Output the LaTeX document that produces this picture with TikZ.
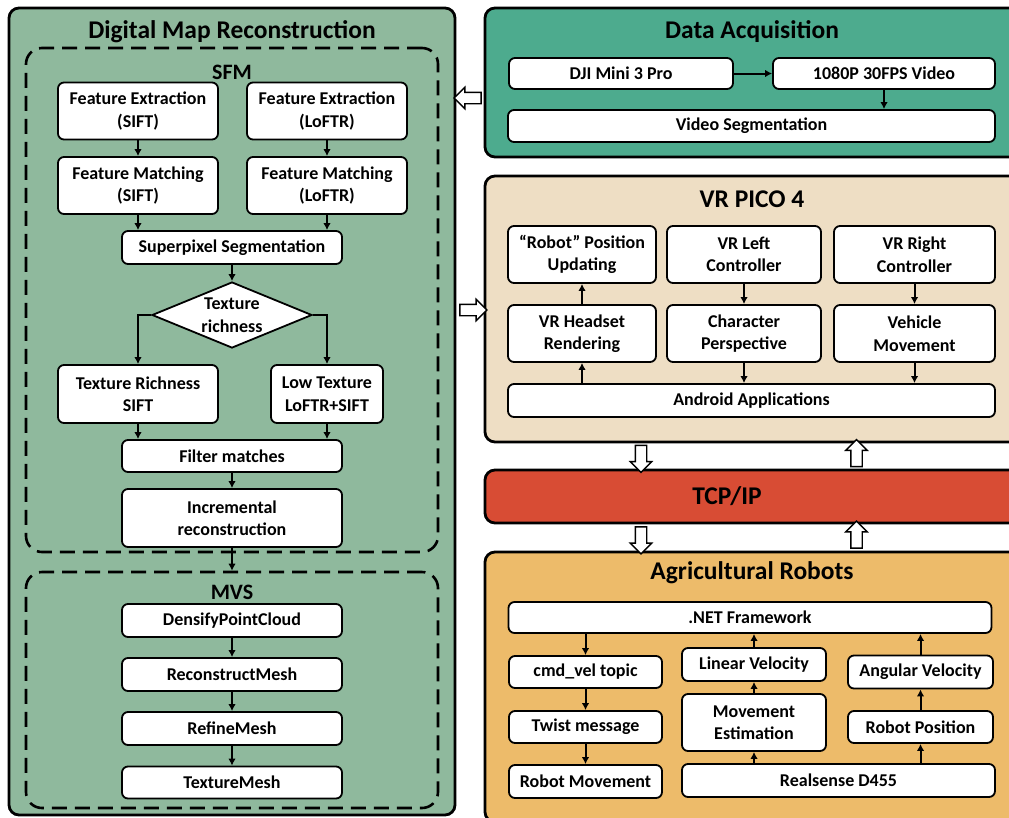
\documentclass[tikz,border=0pt]{standalone}
\usepackage{fontspec}
\setmainfont{Carlito}
\usetikzlibrary{shapes.geometric,shapes.arrows,arrows.meta}
\definecolor{mapgreen}{HTML}{8FB99D}
\definecolor{acqgreen}{HTML}{4DAB8E}
\definecolor{vrbeige}{HTML}{EEDEC4}
\definecolor{tcpred}{HTML}{D84C34}
\definecolor{agriorange}{HTML}{EDBB6A}
\begin{document}
\begin{tikzpicture}[x=1pt,y=-1pt,
  panel/.style={draw=black,line width=2.8pt,rounded corners=10pt,inner sep=0pt},
  dashbox/.style={draw=black,line width=2.6pt,rounded corners=16pt,dash pattern=on 15pt off 8pt,inner sep=0pt},
  box/.style={draw=black,fill=white,line width=1.8pt,rounded corners=6pt,inner sep=0pt,align=center,
    font=\bfseries\fontsize{18}{22.5}\selectfont},
  ptitle/.style={font=\bfseries\fontsize{25.5}{30}\selectfont,inner sep=0pt},
  stitle/.style={font=\bfseries\fontsize{22}{26}\selectfont,inner sep=0pt},
  arr/.style={line width=2pt,-{Latex[length=7pt,width=7.5pt]}},
  hollow/.style={single arrow,draw=black,fill=white,line width=1.4pt,inner sep=5pt,
    single arrow head extend=5pt,minimum height=27pt}
]
\clip (0,0) rectangle (1009,817);
% ---------------- left panel ----------------
\node[panel,fill=mapgreen,minimum width=446pt,minimum height=807pt] (map) at (232,411.5) {};
\node[ptitle] (maptitle) at (232,32) {Digital Map Reconstruction};
\node[dashbox,minimum width=412pt,minimum height=504pt] (sfm) at (232,300) {};
\node[stitle] (sfmtitle) at (232,72) {SFM};
\node[box,minimum width=160pt,minimum height=57pt] (fe1) at (138,111) {Feature Extraction\\(SIFT)};
\node[box,minimum width=160pt,minimum height=57pt] (fe2) at (327,111) {Feature Extraction\\(LoFTR)};
\node[box,minimum width=160pt,minimum height=57pt] (fm1) at (138,185.5) {Feature Matching\\(SIFT)};
\node[box,minimum width=160pt,minimum height=57pt] (fm2) at (327,185.5) {Feature Matching\\(LoFTR)};
\node[box,minimum width=220pt,minimum height=33pt] (sp) at (232,247.5) {Superpixel Segmentation};
\node[diamond,aspect=2.42,draw=black,fill=white,line width=1.8pt,inner sep=0pt,minimum width=160pt,minimum height=66pt] (tr) at (232,315) {};
\node[align=center,inner sep=0pt,font=\bfseries\fontsize{18}{22.5}\selectfont] (trt) at (232,315) {Texture\\richness};
\node[box,minimum width=160pt,minimum height=58pt] (trs) at (138,394) {Texture Richness\\SIFT};
\node[box,minimum width=112pt,minimum height=58pt] (lt) at (327,394) {Low Texture\\LoFTR+SIFT};
\node[box,minimum width=220pt,minimum height=32pt] (fmatch) at (232,456) {Filter matches};
\node[box,minimum width=220pt,minimum height=58pt] (inc) at (232,518) {Incremental\\reconstruction};
\node[dashbox,minimum width=412pt,minimum height=236pt] (mvs) at (232,690) {};
\node[stitle] (mvstitle) at (232,592) {MVS};
\node[box,minimum width=220pt,minimum height=33pt] (dpc) at (232,620.5) {DensifyPointCloud};
\node[box,minimum width=220pt,minimum height=33pt] (rcm) at (232,674.5) {ReconstructMesh};
\node[box,minimum width=220pt,minimum height=33pt] (rfm) at (232,728.5) {RefineMesh};
\node[box,minimum width=220pt,minimum height=32pt] (txm) at (232,782.5) {TextureMesh};
\draw[arr] (fe1) -- (fm1);
\draw[arr] (fe2) -- (fm2);
\draw[arr] (fm1.south) -- (fm1.south |- sp.north);
\draw[arr] (fm2.south) -- (fm2.south |- sp.north);
\draw[arr] (sp) -- (tr);
\draw[arr] (tr.west) -| (trs.north);
\draw[arr] (tr.east) -| (lt.north);
\draw[arr] (trs.south) -- (trs.south |- fmatch.north);
\draw[arr] (lt.south) -- (lt.south |- fmatch.north);
\draw[arr] (fmatch) -- (inc);
\draw[arr] (inc.south) -- (mvs.north);
\draw[arr] (dpc) -- (rcm);
\draw[arr] (rcm) -- (rfm);
\draw[arr] (rfm) -- (txm);
% ---------------- data acquisition ----------------
\node[panel,fill=acqgreen,minimum width=540pt,minimum height=149pt] (da) at (755,82.5) {};
\node[ptitle] (datitle) at (752,32) {Data Acquisition};
\node[box,minimum width=224pt,minimum height=31pt] (dji) at (621,73.5) {DJI Mini 3 Pro};
\node[box,minimum width=222pt,minimum height=31pt] (vid) at (884,73.5) {1080P 30FPS Video};
\node[box,minimum width=487pt,minimum height=32pt] (vseg) at (751.5,126) {Video Segmentation};
\draw[arr] (dji) -- (vid);
\draw[arr] (vid) -- (vseg.north -| vid.south);
% ---------------- VR PICO 4 ----------------
\node[panel,fill=vrbeige,minimum width=540pt,minimum height=266pt] (vr) at (755,309) {};
\node[ptitle] (vrtitle) at (752,199) {VR PICO 4};
\node[box,minimum width=148pt,minimum height=57pt] (rpu) at (582,254.5) {``Robot'' Position\\Updating};
\node[box,minimum width=154pt,minimum height=57pt] (vrl) at (744,254.5) {VR Left\\Controller};
\node[box,minimum width=161pt,minimum height=57pt] (vrr) at (914.5,254.5) {VR Right\\Controller};
\node[box,minimum width=148pt,minimum height=57pt] (vhr) at (582,333.5) {VR Headset\\Rendering};
\node[box,minimum width=154pt,minimum height=57pt] (cp) at (744,333.5) {Character\\Perspective};
\node[box,minimum width=161pt,minimum height=57pt] (vm) at (914.5,333.5) {Vehicle\\Movement};
\node[box,minimum width=487pt,minimum height=33pt] (aa) at (751.5,400.5) {Android Applications};
\draw[arr] (aa.north -| vhr.south) -- (vhr.south);
\draw[arr] (vhr) -- (rpu);
\draw[arr] (vrl) -- (cp);
\draw[arr] (cp.south) -- (cp.south |- aa.north);
\draw[arr] (vrr) -- (vm);
\draw[arr] (vm.south) -- (vm.south |- aa.north);
% ---------------- TCP/IP ----------------
\node[panel,fill=tcpred,minimum width=540pt,minimum height=53pt] (tcp) at (755,496.5) {};
\node[ptitle] (tcptitle) at (727,496.5) {TCP/IP};
% ---------------- agricultural robots ----------------
\node[panel,fill=agriorange,minimum width=540pt,minimum height=270pt] (agri) at (755,687) {};
\node[ptitle] (agrititle) at (752,573) {Agricultural Robots};
\node[box,minimum width=483pt,minimum height=31pt] (net) at (750,617.5) {.NET Framework};
\node[box,minimum width=153pt,minimum height=32pt] (cmd) at (585.5,672) {cmd\_vel topic};
\node[box,minimum width=153pt,minimum height=32pt] (twist) at (585.5,727) {Twist message};
\node[box,minimum width=153pt,minimum height=33pt] (rmov) at (585.5,781.5) {Robot Movement};
\node[box,minimum width=144pt,minimum height=33pt] (lv) at (754,664.5) {Linear Velocity};
\node[box,minimum width=144pt,minimum height=57pt] (me) at (754,722.5) {Movement\\Estimation};
\node[box,minimum width=313pt,minimum height=33pt] (rs) at (838.5,780.5) {Realsense D455};
\node[box,minimum width=145pt,minimum height=33pt] (av) at (920.5,672) {Angular Velocity};
\node[box,minimum width=145pt,minimum height=32pt] (rp) at (920.5,727) {Robot Position};
\draw[arr] (net.south -| cmd.north) -- (cmd.north);
\draw[arr] (cmd) -- (twist);
\draw[arr] (twist) -- (rmov);
\draw[arr] (rs.north -| me.south) -- (me.south);
\draw[arr] (me) -- (lv);
\draw[arr] (lv.north) -- (lv.north |- net.south);
\draw[arr] (rs.north -| rp.south) -- (rp.south);
\draw[arr] (rp) -- (av);
\draw[arr] (av.north) -- (av.north |- net.south);
% ---------------- hollow arrows ----------------
\node[hollow,shape border rotate=180] (h1) at (470.5,98) {};
\node[hollow,shape border rotate=0] (h2) at (470.5,310) {};
\node[hollow,shape border rotate=270] (h3) at (641,456) {};
\node[hollow,shape border rotate=90] (h4) at (856.5,456) {};
\node[hollow,shape border rotate=270] (h5) at (641,537.5) {};
\node[hollow,shape border rotate=90] (h6) at (856.5,537.5) {};
\end{tikzpicture}
\end{document}
